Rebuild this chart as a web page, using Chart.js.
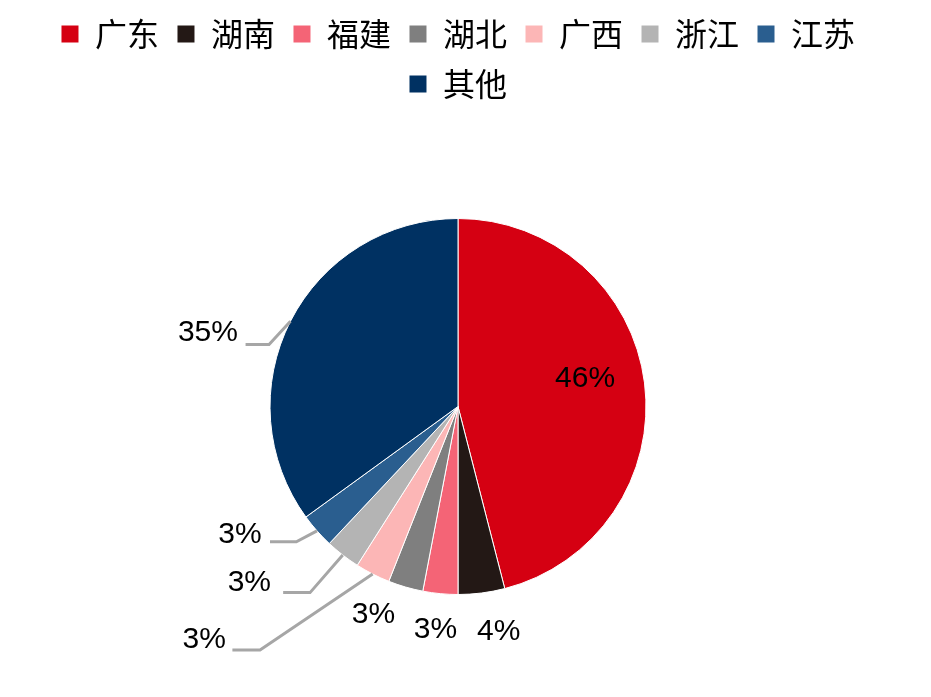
<!DOCTYPE html>
<html lang="zh">
<head>
<meta charset="UTF-8">
<title>省份分布</title>
<script src="https://cdn.jsdelivr.net/npm/chart.js@4.4.0/dist/chart.umd.min.js"></script>
<style>
  html, body { margin: 0; padding: 0; background: #fff; }
  #wrap { width: 931px; height: 697px; }
</style>
</head>
<body>
<div id="wrap"><canvas id="pie"></canvas></div>
<script>
const provinces = ['广东', '湖南', '福建', '湖北', '广西', '浙江', '江苏', '其他'];
const shares = [46, 4, 3, 3, 3, 3, 3, 35];
const colors = ['#D50012', '#231815', '#F46476', '#7F7F7F', '#FCB6B6', '#B4B4B4', '#2A5E8F', '#003162'];

// label placement, in units of radius from the centre: text point, and optional leader elbow/end
const labelSpots = [
  { t: [0.676, -0.15] },
  { t: [0.217, 1.20] },
  { t: [-0.12, 1.19] },
  { t: [-0.45, 1.11] },
  { t: [-1.35, 1.24], elbow: [-1.053, 1.295], end: [-1.20, 1.295] },
  { t: [-1.11, 0.94], elbow: [-0.787, 0.99], end: [-0.93, 0.99] },
  { t: [-1.16, 0.68], elbow: [-0.86, 0.72], end: [-1.00, 0.72] },
  { t: [-1.33, -0.39], elbow: [-1.005, -0.33], end: [-1.13, -0.33] }
];

const legendGap = {
  id: 'legendGap',
  beforeInit(chart) {
    const fit = chart.legend.fit;
    chart.legend.fit = function () { fit.bind(chart.legend)(); this.height += 108; };
  }
};

const pieLabels = {
  id: 'pieLabels',
  afterDraw(chart) {
    const ctx = chart.ctx;
    const arcs = chart.getDatasetMeta(0).data;
    ctx.save();
    ctx.font = '30px "Liberation Sans", Arial, sans-serif';
    ctx.fillStyle = '#000';
    ctx.textAlign = 'center';
    ctx.textBaseline = 'middle';
    arcs.forEach((arc, i) => {
      const r = arc.outerRadius, cx = arc.x, cy = arc.y;
      const spot = labelSpots[i];
      if (spot.elbow) {
        const mid = (arc.startAngle + arc.endAngle) / 2;
        ctx.strokeStyle = '#A6A6A6';
        ctx.lineWidth = 3;
        ctx.beginPath();
        ctx.moveTo(cx + r * Math.cos(mid), cy + r * Math.sin(mid));
        ctx.lineTo(cx + r * spot.elbow[0], cy + r * spot.elbow[1]);
        ctx.lineTo(cx + r * spot.end[0], cy + r * spot.end[1]);
        ctx.stroke();
      }
      ctx.fillText(shares[i] + '%', cx + r * spot.t[0], cy + r * spot.t[1]);
    });
    ctx.restore();
  }
};

new Chart(document.getElementById('pie'), {
  type: 'pie',
  data: {
    labels: provinces,
    datasets: [{
      data: shares,
      backgroundColor: colors,
      borderColor: '#fff',
      borderWidth: 1
    }]
  },
  options: {
    responsive: true,
    maintainAspectRatio: false,
    animation: false,
    layout: { padding: { left: 0, right: 15, top: 0, bottom: 102 } },
    plugins: {
      tooltip: { enabled: false },
      legend: {
        position: 'top',
        padding: 28,
        labels: {
          boxWidth: 18,
          boxHeight: 18,
          padding: 18,
          color: '#000',
          font: { size: 32, family: '"Noto Sans CJK SC", sans-serif' }
        }
      }
    }
  },
  plugins: [legendGap, pieLabels]
});
</script>
</body>
</html>
